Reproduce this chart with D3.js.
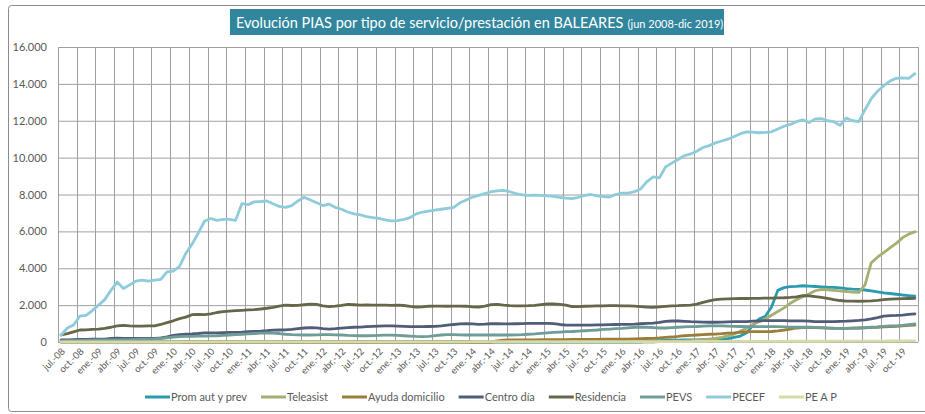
<!DOCTYPE html>
<html><head><meta charset="utf-8">
<script src="https://cdn.jsdelivr.net/npm/d3@7"></script>
<style>
html,body{margin:0;padding:0;background:#fff;}
svg{display:block;font-family:Lato,"Open Sans",sans-serif;}
</style></head>
<body><svg id="c" width="925" height="414"></svg>
<script>
const tickLabels = ["jul.-08","oct.-08",
"ene.-09","abr.-09","jul.-09","oct.-09","ene.-10","abr.-10","jul.-10","oct.-10",
"ene.-11","abr.-11","jul.-11","oct.-11","ene.-12","abr.-12","jul.-12","oct.-12",
"ene.-13","abr.-13","jul.-13","oct.-13","ene.-14","abr.-14","jul.-14","oct.-14",
"ene.-15","abr.-15","jul.-15","oct.-15","ene.-16","abr.-16","jul.-16","oct.-16",
"ene.-17","abr.-17","jul.-17","oct.-17","ene.-18","abr.-18","jul.-18","oct.-18",
"ene.-19","abr.-19","jul.-19","oct.-19"];
const yTicks = [0,2000,4000,6000,8000,10000,12000,14000,16000];
const seriesNames = ["Prom aut y prev","Teleasist","Ayuda domicilio","Centro día","Residencia","PEVS","PECEF","PE A P"];
const seriesColors = ["#2A9AB0","#A6AE72","#9B7D3A","#515C79","#66664A","#6E9C98","#8ECBDB","#D6D9A9"];

const promAut = [0,0,0,0,0,0,0,0,0,0, 0,0,0,0,0,0,0,0,0,0, 0,0,0,0,0,0,0,0,0,0, 0,0,0,0,0,0,0,0,0,0,
0,0,0,0,0,0,0,0,0,0, 0,0,0,0,0,0,0,0,0,0, 0,0,0,0,0,0,0,0,0,0, 0,0,0,0,0,0,0,0,0,0,
0,0,0,0,0,0,0,0,0,0, 0,0,0,0,30,60,80,90,100,100, 110,110,120,130,140,150,160,180,250,320,
500,900,1250,1400,1900,2800,2950,3000,3020,3050, 3030,3010,2990,2970,2960,2940,2900,2870,2850,2820,
2770,2720,2670,2630,2590,2550,2520,2490];
const teleasist = [0,0,0,0,0,0,0,0,0,0, 0,0,0,0,0,0,0,0,0,0, 0,0,0,0,0,0,0,0,0,0, 0,0,0,0,0,0,0,0,0,0,
0,0,0,0,0,0,0,0,0,0, 0,0,0,0,0,0,0,0,0,0, 0,0,0,0,0,0,0,0,0,0, 0,0,0,0,0,0,0,0,0,0,
0,0,0,0,0,0,0,0,0,0, 0,0,0,0,0,0,20,30,40,50, 60,80,100,130,160,190,250,330,430,580,
750,950,1100,1250,1450,1650,1850,2100,2290,2450, 2600,2780,2860,2830,2800,2770,2740,2700,2690,3100,
4300,4600,4850,5100,5350,5650,5850,5980];
const ayudaDomicilio = [0,0,0,0,0,0,0,0,0,0, 0,0,0,0,0,0,0,0,0,0, 0,0,0,0,0,0,0,0,0,0, 0,0,0,0,0,0,0,0,0,0,
0,0,0,0,0,0,0,0,0,0, 0,0,0,0,0,0,0,0,0,0, 0,0,0,0,0,0,0,0,0,0, 60,100,110,110,120,120,120,130,130,130,
130,130,140,140,140,140,140,150,150,150, 150,160,170,180,190,200,220,250,270,300, 340,360,380,400,420,430,450,480,500,530,
550,560,560,560,570,600,640,700,760,780, 790,780,770,750,740,740,740,750,760,770,
790,800,820,830,850,870,900,920];
const centroDia = [110,120,130,140,140,150,150,160,190,210, 200,200,200,190,190,190,220,280,360,400,
430,440,460,490,500,500,510,520,520,530, 560,580,590,610,640,650,660,680,720,760,
780,770,720,700,720,750,780,800,810,830, 850,860,870,870,860,850,830,830,830,840,
850,870,910,950,980,990,980,960,970,990, 990,980,980,990,1000,1010,1010,1010,1010,1000,
950,920,920,920,920,920,930,930,940,950, 960,960,970,990,1010,1020,1060,1120,1140,1140,
1120,1100,1090,1080,1070,1070,1080,1090,1100,1100, 1110,1130,1150,1160,1160,1160,1160,1150,1150,1150,
1130,1110,1100,1100,1110,1120,1130,1150,1170,1200, 1250,1320,1400,1430,1440,1460,1500,1520];
const residencia = [380,450,550,650,660,680,700,740,800,870, 900,870,860,860,870,880,950,1050,1150,1270,
1350,1480,1500,1490,1520,1600,1650,1680,1700,1720, 1740,1760,1790,1830,1880,1950,2000,1980,1990,2020,
2050,2040,1960,1920,1950,1990,2040,2020,2000,2010, 2000,2000,2000,1990,2000,1980,1930,1890,1900,1940,
1950,1950,1940,1950,1950,1940,1900,1890,1950,2030, 2040,2000,1970,1960,1960,1970,1990,2030,2060,2060,
2040,2000,1920,1920,1940,1950,1960,1960,1970,1970, 1960,1960,1950,1920,1890,1880,1900,1930,1960,1970,
1990,2000,2050,2150,2230,2300,2330,2340,2350,2360, 2360,2370,2370,2380,2380,2390,2400,2420,2450,2510,
2500,2460,2420,2360,2300,2250,2220,2220,2210,2220, 2230,2260,2300,2330,2340,2350,2360,2370];
const pevs = [60,70,80,90,100,100,110,110,120,120, 130,130,140,150,160,170,190,230,270,290,
300,310,320,320,330,340,360,380,400,420, 440,460,480,490,480,460,420,400,390,380,
380,390,400,400,390,380,360,350,340,340, 350,360,370,370,360,340,320,300,290,300,
340,380,400,400,390,380,380,380,380,380, 380,380,380,390,400,420,440,470,500,520,
540,560,570,590,610,630,650,680,700,720, 740,770,800,810,800,780,760,760,780,800,
820,830,840,860,870,870,870,860,850,840, 830,830,830,830,830,830,820,810,800,800,
800,790,780,770,750,740,740,750,760,780, 800,820,850,870,880,900,940,980];
const pecef = [380,760,920,1400,1450,1700,2000,2300,2800,3250, 2900,3100,3300,3350,3300,3350,3400,3800,3850,4100,
4800,5300,5900,6550,6700,6600,6650,6650,6600,7500, 7450,7600,7620,7650,7500,7350,7300,7400,7650,7850,
7700,7550,7400,7480,7300,7200,7050,6950,6900,6800, 6750,6700,6620,6570,6580,6650,6750,6950,7050,7100,
7150,7200,7250,7300,7550,7700,7850,7950,8050,8150, 8200,8220,8150,8050,7980,7950,7960,7950,7920,7900,
7850,7800,7780,7850,7950,8000,7920,7880,7860,8000, 8080,8080,8150,8300,8700,8950,8900,9500,9700,9900,
10100,10200,10350,10550,10650,10800,10900,11000,11150,11300, 11400,11380,11350,11370,11400,11550,11700,11800,11950,12050,
11900,12100,12120,12000,11950,11750,12150,12000,11950,12600, 13200,13600,13900,14150,14300,14330,14300,14550];
const peap = [0,0,0,0,0,0,0,0,0,0, 0,0,0,0,0,0,0,0,0,0, 5,5,5,5,5,5,5,5,10,10, 10,10,10,10,10,10,10,10,10,10,
10,10,10,10,10,10,10,10,10,10, 10,10,10,10,10,10,10,10,10,10, 10,10,10,10,10,10,15,15,15,15, 15,15,15,15,15,15,15,15,15,15,
20,20,20,20,20,20,20,20,20,20, 20,20,20,20,25,25,25,25,25,25, 25,25,30,30,30,30,30,30,30,30,
30,35,35,35,35,35,35,40,40,40, 40,40,40,40,45,45,45,45,45,50, 50,50,50,55,55,55,60,60];

const seriesValues = [promAut,teleasist,ayudaDomicilio,centroDia,residencia,pevs,pecef,peap];
const nCat = pecef.length;

const svg = d3.select("#c");
const L = 58, R = 918, T = 47, B = 342;
const x = d3.scaleLinear().domain([0, nCat]).range([L, R]);
const y = d3.scaleLinear().domain([0, 16000]).range([B, T]);
const textCol = "#595959";

// outer border
svg.append("rect").attr("x",8.5).attr("y",5.5).attr("width",920).attr("height",406)
  .attr("rx",3).attr("fill","#fff").attr("stroke","#8c8c8c").attr("stroke-width",1);

// title box
const titleG = svg.append("g");
titleG.append("rect").attr("x",230).attr("y",9).attr("width",494).attr("height",26).attr("fill","#31859C");
const t1 = titleG.append("text").attr("x",236).attr("y",28).attr("fill","#fff").attr("font-size",14.5)
  .text("Evolución PIAS por tipo de servicio/prestación en BALEARES");
const w1 = t1.node().getComputedTextLength();
titleG.append("text").attr("x",236 + w1 + 4).attr("y",28).attr("fill","#fff").attr("font-size",11)
  .text("(jun 2008-dic 2019)");

// horizontal gridlines + y axis labels
const loc = d3.formatLocale({decimal:",", thousands:".", grouping:[3], currency:["","€"]});
const fmt = loc.format(",d");
const yAxis = d3.axisLeft(y).tickValues(yTicks).tickFormat(fmt).tickSize(-(R-L)).tickPadding(11);
const gy = svg.append("g").attr("transform",`translate(${L},0)`).call(yAxis);
gy.select(".domain").remove();
gy.selectAll(".tick line").attr("stroke","#a0a0a0").attr("stroke-width",1);
gy.selectAll(".tick text").attr("fill",textCol).attr("font-size",11).attr("font-family","Lato, 'Open Sans', sans-serif");

// vertical gridlines every 3 categories
const vgrid = d3.range(0, nCat + 1, 3);
svg.append("g").selectAll("line").data(vgrid).join("line")
  .attr("x1",d=>Math.round(x(d))+0.5).attr("x2",d=>Math.round(x(d))+0.5)
  .attr("y1",T).attr("y2",B).attr("stroke","#a0a0a0").attr("stroke-width",1);

// x axis labels
const xAxis = d3.axisBottom(x).tickValues(tickLabels.map((d,i)=>3*i+0.5))
  .tickFormat((d,i)=>tickLabels[i]).tickSize(0).tickPadding(0);
const gx = svg.append("g").attr("transform",`translate(0,${B})`).call(xAxis);
gx.select(".domain").remove();
gx.selectAll(".tick text").attr("fill",textCol).attr("font-size",9.5)
  .attr("font-family","Lato, 'Open Sans', sans-serif")
  .attr("text-anchor","end").attr("dy",0).attr("y",0)
  .attr("transform","translate(4,10) rotate(-45)");

// lines
const line = d3.line().x((d,i)=>x(i+0.5)).y(d=>y(d));
const gl = svg.append("g");
seriesValues.forEach((vals, s) => {
  gl.append("path").attr("d", line(vals)).attr("fill","none")
    .attr("stroke", seriesColors[s]).attr("stroke-width",2.8)
    .attr("stroke-linejoin","round").attr("stroke-linecap","round");
});

// legend
const lg = svg.append("g").attr("transform","translate(0,397)");
let cx = 145;
seriesNames.forEach((n, s) => {
  const g = lg.append("g").attr("transform",`translate(${cx},0)`);
  g.append("line").attr("x1",0).attr("x2",25).attr("y1",0).attr("y2",0)
    .attr("stroke",seriesColors[s]).attr("stroke-width",3);
  const t = g.append("text").attr("x",26).attr("y",4).attr("font-size",11).attr("fill",textCol).text(n);
  cx += 26 + t.node().getComputedTextLength() + 14;
});
</script></body></html>
